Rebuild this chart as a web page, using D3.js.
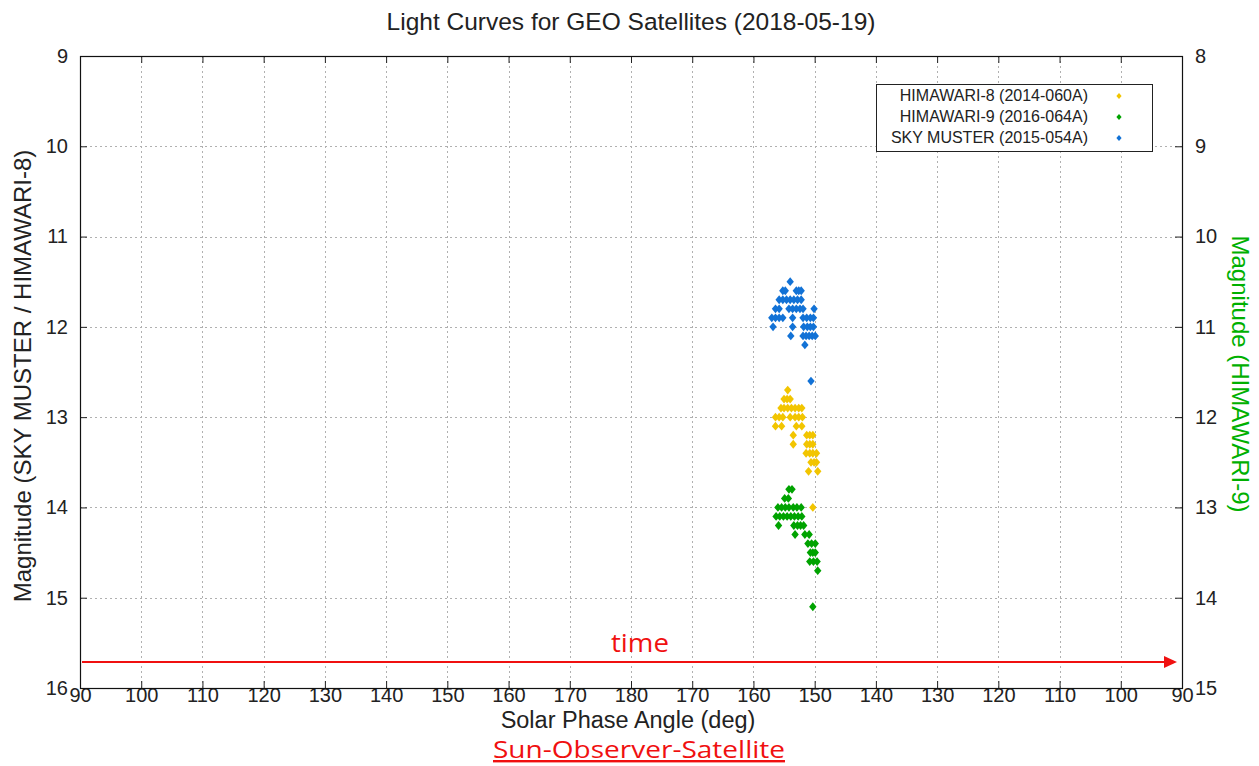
<!DOCTYPE html>
<html>
<head>
<meta charset="utf-8">
<script src="https://cdn.jsdelivr.net/npm/d3@7"></script>
<style>
  body { margin: 0; background: #fff; }
  svg { font-family: "Liberation Sans", Arial, sans-serif; }
</style>
</head>
<body>
<svg id="main_canvas"></svg>
<script>
const width = 1259;
const height = 766;

// angles are on the descending branch (after the 180 deg turnaround)
// HIMAWARI-8, left axis magnitude
const himawari8 = [
  [154.4, 12.7],
  [155.0, 12.8], [154.5, 12.8], [154.0, 12.8],
  [155.5, 12.9], [155.0, 12.9], [154.4, 12.9], [153.8, 12.9], [153.2, 12.9], [152.6, 12.9], [152.1, 12.9],
  [156.4, 13.0], [155.8, 13.0], [155.2, 13.0], [154.0, 13.0], [153.2, 13.0], [152.6, 13.0], [152.0, 13.0],
  [156.4, 13.1], [155.4, 13.1], [153.0, 13.1], [152.1, 13.1],
  [153.5, 13.2], [151.3, 13.2], [150.8, 13.2], [150.3, 13.2],
  [153.5, 13.3], [151.3, 13.3], [150.8, 13.3], [150.3, 13.3],
  [151.4, 13.4], [150.8, 13.4], [150.3, 13.4], [149.7, 13.4],
  [150.6, 13.5], [150.1, 13.5], [149.7, 13.5],
  [151.0, 13.6], [149.5, 13.6],
  [150.3, 14.0]
];

// HIMAWARI-9, right axis magnitude
const himawari9 = [
  [154.2, 12.8], [153.7, 12.8],
  [154.9, 12.9], [154.3, 12.9],
  [156.0, 13.0], [155.4, 13.0], [154.8, 13.0], [154.2, 13.0], [153.5, 13.0], [152.9, 13.0], [152.2, 13.0],
  [156.3, 13.1], [155.7, 13.1], [155.1, 13.1], [154.5, 13.1], [153.9, 13.1], [153.3, 13.1], [152.7, 13.1], [152.1, 13.1],
  [155.9, 13.2], [153.4, 13.2], [152.8, 13.2], [152.3, 13.2], [151.8, 13.2],
  [153.2, 13.3], [151.6, 13.3], [150.9, 13.3],
  [151.1, 13.4], [150.5, 13.4], [149.9, 13.4],
  [150.7, 13.5], [150.3, 13.5], [149.9, 13.5],
  [150.8, 13.6], [150.2, 13.6], [149.6, 13.6],
  [149.5, 13.7],
  [150.3, 14.1]
];

// SKY MUSTER, left axis magnitude
const skyMuster = [
  [154.0, 11.5],
  [155.2, 11.6], [154.8, 11.6], [153.0, 11.6], [152.6, 11.6], [152.2, 11.6],
  [155.8, 11.7], [155.2, 11.7], [154.6, 11.7], [154.0, 11.7], [153.4, 11.7], [152.8, 11.7], [152.2, 11.7],
  [156.4, 11.8], [155.8, 11.8], [154.2, 11.8], [153.6, 11.8], [153.0, 11.8], [152.4, 11.8], [151.9, 11.8], [150.1, 11.8],
  [157.0, 11.9], [156.4, 11.9], [155.8, 11.9], [155.2, 11.9], [153.6, 11.9], [151.9, 11.9], [151.3, 11.9], [150.7, 11.9], [150.2, 11.9],
  [156.8, 12.0], [153.6, 12.0], [151.8, 12.0], [151.2, 12.0], [150.7, 12.0], [150.2, 12.0],
  [153.9, 12.1], [151.9, 12.1], [151.4, 12.1], [150.9, 12.1], [150.4, 12.1], [149.9, 12.1],
  [151.6, 12.2],
  [150.6, 12.6]
];

const xTickValues = d3.range(90, 271, 10); // unfolded track: 90..180..90
const leftTicks = d3.range(9, 17);
const rightTicks = d3.range(8, 16);

const series = [
  { name: "HIMAWARI-8 (2014-060A)", color: "#f2c500", data: himawari8, axis: "left" },
  { name: "HIMAWARI-9 (2016-064A)", color: "#00a300", data: himawari9, axis: "right" },
  { name: "SKY MUSTER (2015-054A)", color: "#1272d6", data: skyMuster, axis: "left" }
];

const margin = { top: 56, right: 77, bottom: 78, left: 80 };
const x0 = margin.left, x1 = width - margin.right;
const y0 = margin.top, y1 = height - margin.bottom;

const svg = d3.select("#main_canvas").attr("width", width).attr("height", height);

const x = d3.scaleLinear().domain([90, 270]).range([x0, x1]);
const yLeft = d3.scaleLinear().domain([9, 16]).range([y0, y1]);
const yRight = d3.scaleLinear().domain([8, 15]).range([y0, y1]);
const unfold = (a) => 360 - a; // descending branch
const fmtAngle = (d) => (d <= 180 ? d : 360 - d);

// grid
const grid = svg.append("g").attr("stroke", "#b0b0b0").attr("stroke-width", 1)
  .attr("stroke-dasharray", "2,3");
grid.selectAll(".vg").data(xTickValues.slice(1, -1)).join("line")
  .attr("x1", (d) => Math.round(x(d)) + 0.5).attr("x2", (d) => Math.round(x(d)) + 0.5)
  .attr("y1", y0).attr("y2", y1);
grid.selectAll(".hg").data(leftTicks.slice(1, -1)).join("line")
  .attr("y1", (d) => Math.round(yLeft(d)) + 0.5).attr("y2", (d) => Math.round(yLeft(d)) + 0.5)
  .attr("x1", x0).attr("x2", x1);

// axes with inward ticks
const bottomAxis = d3.axisBottom(x).tickValues(xTickValues).tickFormat(fmtAngle)
  .tickSizeInner(-7).tickSizeOuter(0).tickPadding(0);
const topAxis = d3.axisTop(x).tickValues(xTickValues).tickFormat("")
  .tickSizeInner(-7).tickSizeOuter(0);
const leftAxis = d3.axisLeft(yLeft).tickValues(leftTicks).tickFormat(d3.format("d"))
  .tickSizeInner(-7).tickSizeOuter(0).tickPadding(12);
const rightAxis = d3.axisRight(yRight).tickValues(rightTicks).tickFormat(d3.format("d"))
  .tickSizeInner(-7).tickSizeOuter(0).tickPadding(13);

function styleAxis(g, size) {
  g.select(".domain").remove();
  g.selectAll("text").attr("font-size", size).attr("fill", "#222")
    .attr("font-family", "'Liberation Sans', Arial, sans-serif");
  g.selectAll("line").attr("stroke", "#222");
}
svg.append("g").attr("transform", `translate(0,${y1})`).call(bottomAxis).call(styleAxis, 20);
svg.append("g").attr("transform", `translate(0,${y0})`).call(topAxis).call(styleAxis, 20);
svg.append("g").attr("transform", `translate(${x0},0)`).call(leftAxis).call(styleAxis, 20);
svg.append("g").attr("transform", `translate(${x1},0)`).call(rightAxis).call(styleAxis, 20);

// frame
svg.append("rect").attr("x", x0 + 0.5).attr("y", y0 + 0.5)
  .attr("width", x1 - x0).attr("height", y1 - y0)
  .attr("fill", "none").attr("stroke", "#111").attr("stroke-width", 1.2);

// points
const diamond = "M0,-4.4L3.7,0L0,4.4L-3.7,0Z";
series.forEach((s) => {
  const y = s.axis === "left" ? yLeft : yRight;
  svg.append("g").selectAll("path").data(s.data).join("path")
    .attr("d", diamond)
    .attr("transform", (d) => `translate(${x(unfold(d[0]))},${y(d[1])})`)
    .attr("fill", s.color);
});

// legend
const legend = svg.append("g");
legend.append("rect").attr("x", 876.5).attr("y", 84.5).attr("width", 276).attr("height", 67)
  .attr("fill", "#fff").attr("stroke", "#222").attr("stroke-width", 1);
series.forEach((s, i) => {
  const ly = 95 + i * 21;
  legend.append("text").attr("x", 1088).attr("y", ly).attr("dy", "0.35em")
    .attr("text-anchor", "end").attr("font-size", 16).attr("fill", "#222").text(s.name);
  legend.append("path").attr("d", "M0,-3L2.6,0L0,3L-2.6,0Z")
    .attr("transform", `translate(1119,${ly + 1})`).attr("fill", s.color);
});

// title and labels
svg.append("text").attr("x", 631).attr("y", 30).attr("text-anchor", "middle")
  .attr("font-size", 24.5).attr("fill", "#222").text("Light Curves for GEO Satellites (2018-05-19)");
svg.append("text").attr("x", 628).attr("y", 728).attr("text-anchor", "middle")
  .attr("font-size", 23.5).attr("fill", "#222").text("Solar Phase Angle (deg)");
svg.append("text").attr("transform", `translate(31,${376}) rotate(-90)`)
  .attr("text-anchor", "middle").attr("font-size", 24).attr("fill", "#222")
  .text("Magnitude (SKY MUSTER / HIMAWARI-8)");
svg.append("text").attr("transform", `translate(1232,${374}) rotate(90)`)
  .attr("text-anchor", "middle").attr("font-size", 24).attr("fill", "#00b000")
  .text("Magnitude (HIMAWARI-9)");

// time arrow annotation
const red = "#f01010";
svg.append("line").attr("x1", 82).attr("x2", 1166).attr("y1", 662).attr("y2", 662)
  .attr("stroke", red).attr("stroke-width", 2.2);
svg.append("path").attr("d", "M1164,656L1177,662L1164,668Z").attr("fill", red);
svg.append("text").attr("x", 611).attr("y", 652)
  .attr("font-family", "'Open Sans', sans-serif").attr("font-size", 26).attr("fill", red)
  .attr("textLength", 58).attr("lengthAdjust", "spacingAndGlyphs").text("time");
svg.append("text").attr("x", 493).attr("y", 758)
  .attr("font-family", "'Open Sans', sans-serif").attr("font-size", 24).attr("fill", red)
  .attr("text-decoration", "underline")
  .attr("textLength", 292).attr("lengthAdjust", "spacingAndGlyphs").text("Sun-Observer-Satellite");
</script>
</body>
</html>
